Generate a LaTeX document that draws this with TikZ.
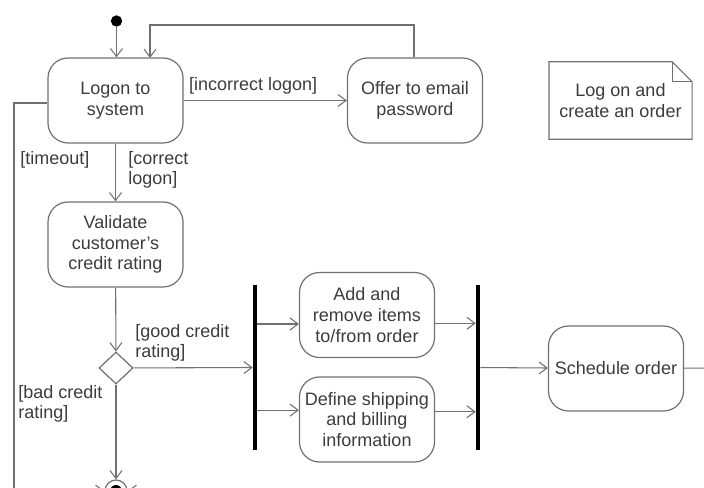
\documentclass[tikz,border=0pt]{standalone}
\usepackage{fontspec}
\setmainfont{Liberation Sans}
\usetikzlibrary{arrows.meta,shapes.geometric}
\definecolor{ink}{HTML}{3C3C3C}
\definecolor{wire}{HTML}{707070}
\begin{document}
\begin{tikzpicture}[x=0.75pt,y=-0.75pt,
  font=\fontsize{13.5}{15.5}\selectfont,
  action/.style={draw=wire, line width=0.9pt, rounded corners=15pt,
    minimum width=101.25pt, minimum height=63.75pt, align=center,
    text=ink, inner sep=2pt},
  flow/.style={draw=wire, line width=0.8pt,
    -{Straight Barb[length=6pt,width=9pt]}},
  wireline/.style={draw=wire, line width=0.8pt},
  guard/.style={text=ink, align=left, anchor=west, inner sep=0pt},
  syncbar/.style={fill=black, minimum width=3pt, minimum height=123.75pt,
    inner sep=0pt}
]
\useasboundingbox (0,0) rectangle (704,488);
\clip (0,0) rectangle (704,488);

% actions
\node[action] (logon)    at (115.5,100.5) {Logon to\\system};
\node[action] (offer)    at (415,100.5)   {Offer to email\\password};
\node[action] (validate) at (115.5,244.5) {Validate\\customer's\\credit rating};
\node[action] (add)      at (367,315)     {Add and\\remove items\\to/from order};
\node[action] (define)   at (367,419.5)   {Define shipping\\and billing\\information};
\node[action] (schedule) at (616,368.5)   {Schedule order};

% note with folded corner
\node[minimum width=107pt, minimum height=57.75pt, align=center, text=ink,
  inner sep=0pt] (note) at (620.5,100.5) {Log on and\\create an order};
\draw[wire, line width=0.9pt]
  (note.north west) -- ([xshift=-15pt]note.north east)
  -- ([yshift=-15pt]note.north east) -- (note.south east)
  -- (note.south west) -- cycle;
\draw[wire, line width=0.9pt]
  ([xshift=-15pt]note.north east) |- ([yshift=-15pt]note.north east);

% initial, decision, synchronisation bars, final
\node[circle, fill=black, minimum size=8.5pt, inner sep=0pt] (start) at (116.5,21) {};
\node[diamond, draw=wire, line width=0.9pt, minimum width=25.5pt,
  minimum height=24pt, inner sep=0pt] (decide) at (116,368) {};
\node[syncbar] (fork) at (255,367.5) {};
\node[syncbar] (join) at (478,367.5) {};
\node[circle, draw=wire, line width=0.9pt, minimum size=16.5pt,
  inner sep=0pt] (final) at (116,491) {};
\fill[black] (final.center) circle (4.5pt);

% auxiliary points
\coordinate (loopa) at (414,25);
\coordinate (loopb) at (150,25);
\coordinate (logontop) at (150,58);
\coordinate (timeoutcorner) at (14,103);
\coordinate (timeoutend) at (14,520);
\coordinate (finalleft) at (60,491);
\coordinate (finalright) at (170,491);
\coordinate (outright) at (720,368);
\coordinate (addin) at ([yshift=-6.75pt]add.west);
\coordinate (addout) at ([yshift=-6.2pt]add.east);
\coordinate (definein) at ([yshift=7pt]define.west);
\coordinate (defineout) at ([yshift=5.8pt]define.east);

% transitions
\draw[flow] (start) -- (start |- logon.north);
\draw[flow] (logon) -- node[guard, above, anchor=south west, pos=0.03,
  yshift=4pt] {[incorrect logon]} (offer);
\draw[flow] (offer.north -| loopa) -- (loopa) -- (loopb) -- (logontop);
\draw[wireline] (logon.west |- timeoutcorner) -- (timeoutcorner) -- (timeoutend);
\draw[flow] (logon) -- (validate);
\draw[flow] (validate) -- (decide);
\draw[flow] (decide) -- (fork);
\draw[flow] (fork.east |- addin) -- (addin);
\draw[flow] (fork.east |- definein) -- (definein);
\draw[flow] (addout) -- (join.west |- addout);
\draw[flow] (defineout) -- (join.west |- defineout);
\draw[flow] (join) -- (schedule);
\draw[wireline] (schedule) -- (outright);
\draw[flow] (decide) -- (final);
\draw[flow] (finalleft) -- (final);
\draw[flow] (finalright) -- (final);

% guards
\node[guard] (gtimeout) at (20,160) {[timeout]};
\node[guard] (gcorrect) at (128,170) {[correct\\logon]};
\node[guard] (ggood) at (135,343) {[good credit\\rating]};
\node[guard] (gbad) at (18,404) {[bad credit\\rating]};
\end{tikzpicture}
\end{document}
